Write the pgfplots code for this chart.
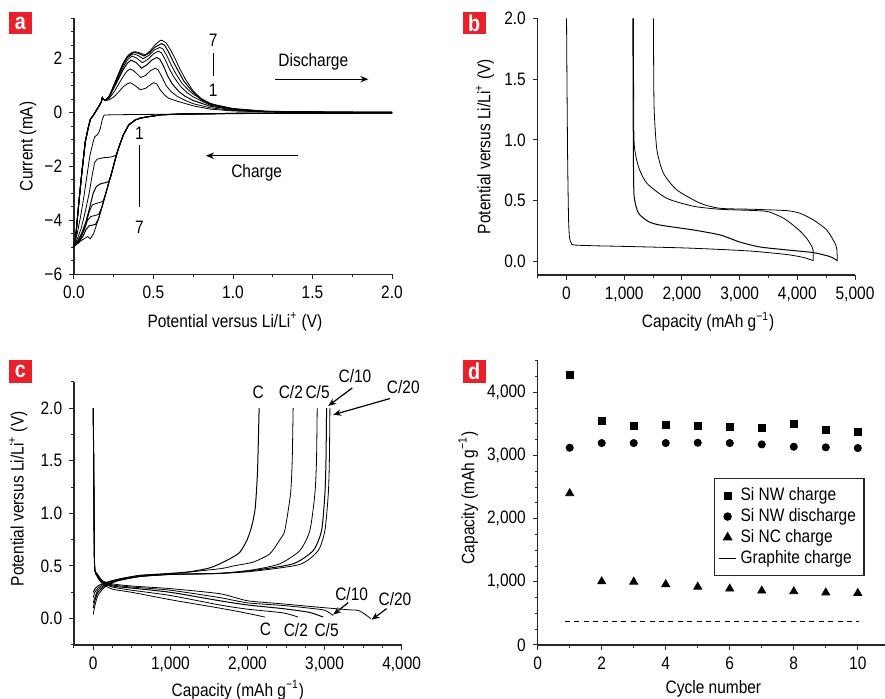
\documentclass[border=0pt]{standalone}
\usepackage{fontspec}
\setmainfont{Liberation Sans}[FakeStretch=0.86]
\usepackage{pgfplots}
\pgfplotsset{compat=1.18}
\usetikzlibrary{arrows.meta}
\definecolor{labred}{HTML}{E8202A}
\newcommand\fsz{\fontsize{9}{10.8}\selectfont}

\pgfplotsset{
  panel/.style={
    scale only axis, clip=false,
    axis x line*=bottom, axis y line*=left,
    tick align=outside,
    major tick length=2.4pt, minor tick length=1.4pt,
    tick style={black!85, line width=0.5pt},
    axis line style={black!85, line width=0.6pt},
    tick label style={font=\fsz},
    label style={font=\fsz},
    cycle list={{black, no markers, line width=0.5pt}},
  },
}
\tikzset{lab/.style={font=\fsz},
  panlab/.style={fill=labred, text=white, font=\fontsize{11.5}{12}\selectfont\bfseries,
  minimum size=11.35pt, inner sep=0pt}}

\begin{document}
\begin{tikzpicture}
\path[use as bounding box] (0,0) rectangle (442.5pt,349.5pt);

% ---------- a: cyclic voltammetry ----------
\begin{axis}[panel, at={(37pt,212.35pt)}, anchor=south west,
  width=159pt, height=128pt,
  xmin=0, xmax=2, ymin=-6, ymax=3.5,
  xtick={0,0.5,1,1.5,2}, xticklabels={0.0,0.5,1.0,1.5,2.0},
  minor xtick={0.25,0.75,1.25,1.75},
  ytick={-6,-4,-2,0,2}, yticklabels={−6,−4,−2,0,2},
  minor ytick={-5.5,-5,-4.5,-3.5,-3,-2.5,-1.5,-1,-0.5,0.5,1,1.5,2.5,3,3.5},
  xlabel={Potential versus Li/Li\textsuperscript{+} (V)},
  ylabel={Current (mA)},
  xlabel style={at={(axis description cs:0.506,-0.185)}, anchor=center},
  ylabel style={at={(axis description cs:-0.145,0.5)}, anchor=center},
]
% cycle 1
\addplot coordinates {(2.0,-0.01)(1.5,-0.02)(1.0,-0.04)(0.6,-0.06)(0.4,-0.07)(0.25,-0.08)(0.19,-0.09)(0.178,-0.25)(0.166,-0.58)(0.155,-0.75)(0.145,-0.83)(0.13,-0.9)(0.12,-1.1)(0.1,-1.6)(0.08,-2.4)(0.06,-3.2)(0.04,-3.9)(0.02,-4.5)(0.0,-4.88)
 (0.008,-4.8)(0.029,-3.43)(0.05,-2.19)(0.071,-1.08)(0.09,-0.55)(0.103,-0.25)(0.124,-0.08)(0.14,0.08)(0.155,0.22)(0.172,0.4)(0.178,0.56)(0.185,0.5)(0.197,0.45)
 (0.22,0.47)(0.25,0.58)(0.28,0.76)(0.31,0.96)(0.335,1.07)(0.354,1.11)(0.38,1.02)(0.417,0.85)(0.45,0.9)(0.48,1.03)(0.50,1.11)(0.52,1.07)(0.543,0.84)(0.57,0.65)(0.596,0.53)(0.64,0.44)(0.68,0.37)(0.75,0.25)(0.855,0.13)(1.0,0.06)(1.2,0.03)(1.6,0.015)(2.0,0.01)};
% cycle 2
\addplot coordinates {(2.0,-0.01)(1.5,-0.02)(1.0,-0.03)(0.7,-0.05)(0.55,-0.08)(0.47,-0.15)(0.42,-0.2)(0.386,-0.27)(0.344,-0.46)(0.31,-0.83)(0.28,-1.32)
 (0.265,-1.57)(0.245,-1.63)(0.22,-1.66)(0.19,-1.67)(0.165,-1.70)(0.145,-1.73)(0.13,-1.85)(0.115,-2.3)(0.095,-3.0)(0.07,-3.7)(0.045,-4.3)(0.02,-4.7)(0.0,-4.9)
 (0.008,-4.8)(0.029,-3.43)(0.05,-2.19)(0.071,-1.08)(0.09,-0.55)(0.103,-0.25)(0.124,-0.08)(0.14,0.08)(0.155,0.22)(0.172,0.4)(0.178,0.56)(0.185,0.5)(0.197,0.45)
 (0.22,0.52)(0.25,0.75)(0.28,1.05)(0.31,1.35)(0.335,1.55)(0.355,1.62)(0.38,1.53)(0.42,1.30)(0.45,1.38)(0.48,1.55)(0.51,1.65)(0.53,1.58)(0.555,1.3)(0.58,1.0)(0.61,0.78)(0.65,0.6)(0.7,0.45)(0.75,0.33)(0.855,0.18)(1.0,0.08)(1.2,0.035)(1.6,0.015)(2.0,0.01)};
% cycle 3
\addplot coordinates {(2.0,-0.01)(1.5,-0.02)(1.0,-0.03)(0.7,-0.05)(0.55,-0.08)(0.47,-0.15)(0.42,-0.2)(0.386,-0.27)(0.344,-0.46)(0.31,-0.83)(0.28,-1.32)
 (0.26,-1.72)(0.245,-2.05)(0.23,-2.4)(0.218,-2.56)(0.2,-2.6)(0.18,-2.62)(0.16,-2.66)(0.14,-2.75)(0.12,-3.0)(0.1,-3.5)(0.075,-4.05)(0.05,-4.45)(0.025,-4.75)(0.0,-4.92)
 (0.008,-4.8)(0.029,-3.43)(0.05,-2.19)(0.071,-1.08)(0.09,-0.55)(0.103,-0.25)(0.124,-0.08)(0.14,0.08)(0.155,0.22)(0.172,0.4)(0.178,0.56)(0.185,0.5)(0.197,0.45)
 (0.22,0.55)(0.25,0.9)(0.28,1.25)(0.31,1.6)(0.335,1.83)(0.36,1.95)(0.39,1.86)(0.425,1.65)(0.46,1.78)(0.49,1.95)(0.52,2.05)(0.54,1.98)(0.565,1.7)(0.59,1.35)(0.62,1.05)(0.66,0.78)(0.7,0.6)(0.75,0.45)(0.855,0.24)(1.0,0.1)(1.2,0.04)(1.6,0.015)(2.0,0.01)};
% cycle 4
\addplot coordinates {(2.0,-0.01)(1.5,-0.02)(1.0,-0.03)(0.7,-0.05)(0.55,-0.08)(0.47,-0.15)(0.42,-0.2)(0.386,-0.27)(0.344,-0.46)(0.31,-0.83)(0.28,-1.32)
 (0.26,-1.72)(0.239,-2.19)(0.218,-2.62)(0.197,-3.06)(0.183,-3.28)(0.165,-3.33)(0.14,-3.37)(0.114,-3.43)(0.095,-3.7)(0.075,-4.15)(0.05,-4.5)(0.025,-4.78)(0.0,-4.93)
 (0.008,-4.8)(0.029,-3.43)(0.05,-2.19)(0.071,-1.08)(0.09,-0.55)(0.103,-0.25)(0.124,-0.08)(0.14,0.08)(0.155,0.22)(0.172,0.4)(0.178,0.56)(0.185,0.5)(0.197,0.45)
 (0.22,0.57)(0.25,0.95)(0.28,1.32)(0.31,1.7)(0.335,1.95)(0.365,2.10)(0.395,2.02)(0.43,1.85)(0.465,1.98)(0.5,2.18)(0.53,2.28)(0.55,2.22)(0.575,1.95)(0.6,1.62)(0.63,1.3)(0.67,0.97)(0.71,0.75)(0.75,0.58)(0.855,0.28)(1.0,0.12)(1.2,0.045)(1.6,0.015)(2.0,0.01)};
% cycle 5
\addplot coordinates {(2.0,-0.01)(1.5,-0.02)(1.0,-0.03)(0.7,-0.05)(0.55,-0.08)(0.47,-0.15)(0.42,-0.2)(0.386,-0.27)(0.344,-0.46)(0.31,-0.83)(0.28,-1.32)
 (0.26,-1.72)(0.239,-2.19)(0.218,-2.62)(0.197,-3.06)(0.176,-3.5)(0.155,-3.78)(0.13,-3.82)(0.105,-3.86)(0.085,-4.0)(0.065,-4.35)(0.04,-4.68)(0.02,-4.85)(0.0,-4.94)
 (0.008,-4.8)(0.029,-3.43)(0.05,-2.19)(0.071,-1.08)(0.09,-0.55)(0.103,-0.25)(0.124,-0.08)(0.14,0.08)(0.155,0.22)(0.172,0.4)(0.178,0.56)(0.185,0.5)(0.197,0.45)
 (0.22,0.58)(0.25,0.98)(0.28,1.38)(0.31,1.78)(0.335,2.03)(0.37,2.18)(0.40,2.13)(0.435,2.0)(0.47,2.12)(0.505,2.32)(0.54,2.42)(0.56,2.36)(0.585,2.1)(0.61,1.78)(0.64,1.45)(0.68,1.08)(0.72,0.84)(0.75,0.68)(0.855,0.31)(1.0,0.14)(1.2,0.05)(1.6,0.015)(2.0,0.01)};
% cycle 6
\addplot coordinates {(2.0,-0.01)(1.5,-0.02)(1.0,-0.03)(0.7,-0.05)(0.55,-0.08)(0.47,-0.15)(0.42,-0.2)(0.386,-0.27)(0.344,-0.46)(0.31,-0.83)(0.28,-1.32)
 (0.26,-1.72)(0.239,-2.19)(0.218,-2.62)(0.197,-3.06)(0.176,-3.5)(0.155,-3.93)(0.135,-4.15)(0.113,-4.18)(0.095,-4.2)(0.075,-4.35)(0.055,-4.6)(0.03,-4.82)(0.0,-4.95)
 (0.008,-4.8)(0.029,-3.43)(0.05,-2.19)(0.071,-1.08)(0.09,-0.55)(0.103,-0.25)(0.124,-0.08)(0.14,0.08)(0.155,0.22)(0.172,0.4)(0.178,0.56)(0.185,0.5)(0.197,0.45)
 (0.22,0.59)(0.25,1.0)(0.28,1.42)(0.31,1.84)(0.335,2.08)(0.375,2.24)(0.405,2.2)(0.44,2.1)(0.475,2.22)(0.51,2.43)(0.55,2.56)(0.57,2.5)(0.595,2.25)(0.625,1.88)(0.655,1.55)(0.69,1.18)(0.72,0.96)(0.75,0.75)(0.8,0.48)(0.855,0.33)(1.0,0.15)(1.2,0.05)(1.6,0.015)(2.0,0.01)};
% cycle 7
\addplot coordinates {(2.0,-0.01)(1.5,-0.02)(1.0,-0.03)(0.7,-0.05)(0.55,-0.08)(0.47,-0.15)(0.42,-0.2)(0.386,-0.27)(0.344,-0.46)(0.31,-0.83)(0.28,-1.32)
 (0.26,-1.72)(0.239,-2.19)(0.218,-2.62)(0.197,-3.06)(0.176,-3.5)(0.155,-3.93)(0.124,-4.48)(0.103,-4.68)(0.085,-4.6)(0.065,-4.68)(0.045,-4.75)(0.025,-4.85)(0.0,-4.97)
 (0.008,-4.8)(0.029,-3.43)(0.05,-2.19)(0.071,-1.08)(0.09,-0.55)(0.103,-0.25)(0.124,-0.08)(0.14,0.08)(0.155,0.22)(0.172,0.4)(0.178,0.56)(0.185,0.5)(0.197,0.45)
 (0.22,0.6)(0.239,0.84)(0.26,1.15)(0.281,1.46)(0.30,1.72)(0.323,1.96)(0.345,2.15)(0.365,2.23)(0.386,2.26)(0.41,2.22)(0.449,2.14)(0.48,2.3)(0.51,2.52)(0.543,2.68)(0.555,2.68)(0.58,2.58)(0.61,2.3)(0.64,1.95)(0.667,1.6)(0.7,1.25)(0.75,0.8)(0.8,0.52)(0.855,0.35)(0.92,0.22)(0.98,0.16)(1.1,0.07)(1.3,0.03)(1.6,0.015)(2.0,0.01)};

\node[lab] at (axis cs:0.876,2.7) {7};
\draw[black, line width=0.6pt] (axis cs:0.876,2.21) -- (axis cs:0.876,1.36);
\node[lab] at (axis cs:0.876,0.82) {1};
\node[lab] at (axis cs:0.411,-0.77) {1};
\draw[black, line width=0.6pt] (axis cs:0.411,-1.2) -- (axis cs:0.411,-3.52);
\node[lab] at (axis cs:0.411,-4.24) {7};
\node[lab] at (axis cs:1.505,1.9) {Discharge};
\draw[black, line width=0.6pt, -{Stealth[length=4pt,width=3.2pt]}] (axis cs:1.264,1.24) -- (axis cs:1.851,1.24);
\node[lab] at (axis cs:1.149,-2.23) {Charge};
\draw[black, line width=0.6pt, -{Stealth[length=4pt,width=3.2pt]}] (axis cs:1.411,-1.6) -- (axis cs:0.83,-1.6);
\end{axis}

% ---------- b: first cycles ----------
\begin{axis}[panel, at={(268.85pt,212pt)}, anchor=south west,
  width=158.65pt, height=128.35pt,
  xmin=-500, xmax=5000, ymin=-0.11, ymax=2.0,
  xtick={0,1000,2000,3000,4000,5000}, xticklabels={0,{1,000},{2,000},{3,000},{4,000},{5,000}},
  minor xtick={-500,500,1500,2500,3500,4500},
  ytick={0,0.5,1,1.5,2}, yticklabels={0.0,0.5,1.0,1.5,2.0},
  xlabel={Capacity (mAh g\textsuperscript{−1})},
  ylabel={Potential versus Li/Li\textsuperscript{+} (V)},
  xlabel style={at={(axis description cs:0.537,-0.182)}, anchor=center},
  ylabel style={at={(axis description cs:-0.166,0.5)}, anchor=center},
  every axis plot/.append style={smooth, tension=0.4},
]
\addplot coordinates {(0,2.0)(7,1.5)(20,0.8)(35,0.35)(52,0.192)(80,0.155)(121,0.137)(500,0.13)(1000,0.125)(2000,0.113)(2662,0.1)(3239,0.085)(3817,0.058)(4100,0.035)(4278,0.008)};
\addplot coordinates {(4278,0.008)(4272,0.1)(4220,0.15)(4164,0.19)(4050,0.25)(3900,0.31)(3750,0.36)(3500,0.41)(3239,0.42)(2662,0.43)(2200,0.455)(1739,0.52)(1392,0.644)(1247,0.78)(1172,0.973)(1162,1.5)(1160,2.0)};
\addplot coordinates {(1150,2.0)(1155,1.2)(1160,0.8)(1172,0.534)(1247,0.398)(1420,0.329)(1623,0.30)(2200,0.26)(2662,0.219)(3008,0.16)(3355,0.12)(3817,0.096)(4278,0.074)(4567,0.041)(4694,0.008)};
\addplot coordinates {(4694,0.008)(4685,0.1)(4654,0.15)(4510,0.26)(4278,0.343)(4048,0.397)(3817,0.419)(3239,0.43)(2662,0.438)(2316,0.48)(1912,0.589)(1680,0.726)(1566,0.918)(1519,1.246)(1510,1.6)(1507,2.0)};
\end{axis}

% ---------- c: rate capability ----------
\begin{axis}[panel, at={(37pt,27pt)}, anchor=south west,
  width=163.85pt, height=131.65pt,
  xmin=-250, xmax=4000, ymin=-0.25, ymax=2.25,
  xtick={0,1000,2000,3000,4000}, xticklabels={0,{1,000},{2,000},{3,000},{4,000}},
  minor xtick={-250,250,500,750,1250,1500,1750,2250,2500,2750,3250,3500,3750},
  ytick={0,0.5,1,1.5,2}, yticklabels={0.0,0.5,1.0,1.5,2.0},
  minor ytick={-0.25,0.25,0.75,1.25,1.75,2.25},
  xlabel={Capacity (mAh g\textsuperscript{−1})},
  ylabel={Potential versus Li/Li\textsuperscript{+} (V)},
  xlabel style={at={(axis description cs:0.5,-0.171)}, anchor=center},
  ylabel style={at={(axis description cs:-0.17,0.555)}, anchor=center},
  every axis plot/.append style={smooth, tension=0.4},
]
% charge (lithiation)
\addplot coordinates {(0,2.0)(8,1.2)(17,0.5)(50,0.4)(120,0.33)(250,0.28)(500,0.25)(1000,0.18)(1400,0.13)(1640,0.1)(1900,0.065)(2100,0.035)(2225,0.015)};
\addplot coordinates {(0,2.0)(8,1.2)(17,0.5)(50,0.41)(120,0.34)(250,0.3)(500,0.27)(1000,0.22)(1640,0.13)(2000,0.09)(2462,0.055)(2657,0.015)};
\addplot coordinates {(0,2.0)(8,1.2)(17,0.5)(50,0.42)(120,0.35)(250,0.31)(500,0.29)(1000,0.25)(1640,0.17)(2000,0.13)(2462,0.095)(2800,0.06)(2982,0.015)};
\addplot coordinates {(0,2.0)(8,1.2)(17,0.5)(50,0.42)(120,0.355)(250,0.32)(500,0.3)(1000,0.27)(1640,0.2)(2000,0.15)(2462,0.125)(2800,0.1)(3000,0.08)(3112,0.03)};
\addplot coordinates {(0,2.0)(8,1.2)(17,0.5)(50,0.43)(120,0.36)(250,0.33)(500,0.31)(1000,0.285)(1640,0.237)(2000,0.17)(2462,0.14)(2900,0.11)(3300,0.085)(3450,0.075)(3600,0.0)};
% discharge (delithiation)
\addplot coordinates {(0,0.25)(20,0.28)(60,0.31)(150,0.34)(300,0.37)(600,0.41)(1000,0.43)(1250,0.445)(1500,0.48)(1640,0.52)(1800,0.58)(1900,0.63)(1990,0.74)(2052,0.87)(2100,1.05)(2130,1.4)(2151,2.0)};
\addplot coordinates {(0,0.2)(20,0.25)(60,0.29)(150,0.33)(300,0.37)(600,0.41)(1000,0.425)(1640,0.474)(1813,0.5)(2073,0.537)(2290,0.616)(2420,0.75)(2484,0.837)(2558,1.185)(2580,1.5)(2592,2.0)};
\addplot coordinates {(0,0.15)(20,0.2)(60,0.27)(150,0.32)(300,0.36)(600,0.4)(1000,0.42)(1640,0.43)(2073,0.464)(2420,0.521)(2679,0.647)(2809,0.837)(2874,1.185)(2895,1.5)(2904,2.0)};
\addplot coordinates {(0,0.1)(20,0.17)(60,0.25)(150,0.31)(300,0.36)(600,0.4)(1000,0.42)(1640,0.43)(2073,0.458)(2592,0.521)(2852,0.647)(2961,0.837)(3004,1.185)(3018,1.5)(3026,2.0)};
\addplot coordinates {(0,0.04)(20,0.12)(60,0.22)(150,0.3)(300,0.355)(600,0.4)(1000,0.42)(1640,0.43)(2073,0.45)(2679,0.515)(2917,0.647)(3004,0.837)(3048,1.185)(3062,1.5)(3069,2.0)};

\node[lab] at (axis cs:2138,2.148) {C};
\node[lab] at (axis cs:2562,2.148) {C/2};
\node[lab] at (axis cs:2909,2.148) {C/5};
\node[lab] at (axis cs:3394,2.306) {C/10};
\node[lab] at (axis cs:4021,2.195) {C/20};
\draw[black, line width=0.6pt, -{Stealth[length=4pt,width=3.2pt]}] (axis cs:3358,2.19) -- (axis cs:3047,2.02);
\draw[black, line width=0.6pt, -{Stealth[length=4pt,width=3.2pt]}] (axis cs:3848,2.09) -- (axis cs:3112,1.936);
\node[lab] at (axis cs:3351,0.237) {C/10};
\node[lab] at (axis cs:3913,0.19) {C/20};
\node[lab] at (axis cs:2234,-0.104) {C};
\node[lab] at (axis cs:2627,-0.104) {C/2};
\node[lab] at (axis cs:3026,-0.104) {C/5};
\draw[black, line width=0.6pt, -{Stealth[length=4pt,width=3.2pt]}] (axis cs:3306,0.152) -- (axis cs:3112,0.038);
\draw[black, line width=0.6pt, -{Stealth[length=4pt,width=3.2pt]}] (axis cs:3805,0.095) -- (axis cs:3610,-0.01);
\end{axis}

% ---------- d: cycling ----------
\begin{axis}[panel, at={(268.85pt,27pt)}, anchor=south west,
  width=173.65pt, height=142.15pt,
  xmin=0, xmax=10.85, ymin=0, ymax=4500,
  xtick={0,2,4,6,8,10}, xticklabels={0,2,4,6,8,10},
  minor xtick={1,3,5,7,9},
  ytick={0,1000,2000,3000,4000}, yticklabels={0,{1,000},{2,000},{3,000},{4,000}},
  minor ytick={250,500,750,1250,1500,1750,2250,2500,2750,3250,3500,3750,4250,4500},
  xlabel={Cycle number},
  ylabel={Capacity (mAh g\textsuperscript{−1})},
  xlabel style={at={(axis description cs:0.506,-0.155)}, anchor=center},
  ylabel style={at={(axis description cs:-0.2,0.517)}, anchor=center},
  legend cell align=left,
  legend style={at={(axis description cs:0.5076,0.587)}, anchor=north west,
    draw=black!85, line width=0.6pt, font=\fsz, row sep=-1.6pt,
    inner xsep=2pt, inner ysep=2.5pt},
]
\addplot[only marks, mark=square*, mark size=1.7pt] coordinates {(1,4280)(2,3544)(3,3465)(4,3481)(5,3465)(6,3449)(7,3433)(8,3497)(9,3402)(10,3370)};
\addlegendentry{Si NW charge}
\addplot[only marks, mark=*, mark size=1.8pt] coordinates {(1,3122)(2,3196)(3,3196)(4,3196)(5,3201)(6,3196)(7,3175)(8,3138)(9,3128)(10,3117)};
\addlegendentry{Si NW discharge}
\addplot[only marks, mark=triangle*, mark size=2.3pt] coordinates {(1,2400)(2,1005)(3,1000)(4,960)(5,920)(6,890)(7,858)(8,848)(9,828)(10,820)};
\addlegendentry{Si NC charge}
\addplot[dash pattern=on 2.5pt off 2.2pt, line width=0.5pt,
  legend image code/.code={\draw[solid, line width=0.5pt] (0.15cm,0cm) -- (0.45cm,0cm);}]
  coordinates {(0.85,372)(10.05,372)};
\addlegendentry{Graphite charge}
\end{axis}

\node[panlab] at (10.15pt,338pt) {a};
\node[panlab] at (237.1pt,338pt) {b};
\node[panlab] at (10.15pt,163.85pt) {c};
\node[panlab] at (237.1pt,163.85pt) {d};
\end{tikzpicture}
\end{document}
